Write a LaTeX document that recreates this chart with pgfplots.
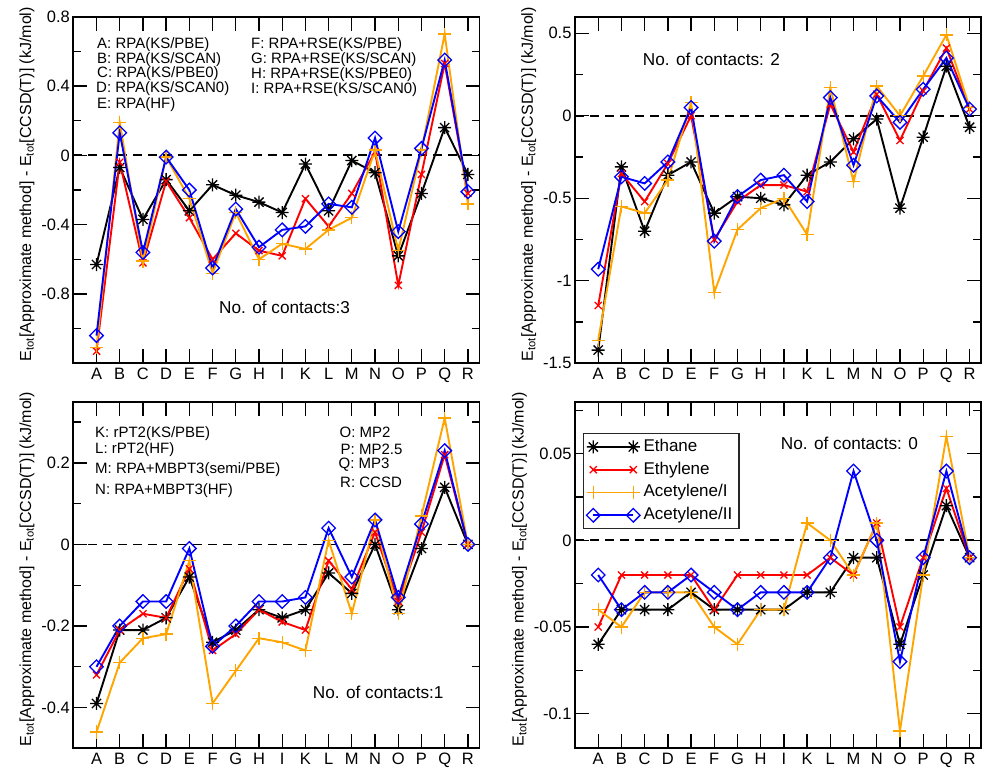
\documentclass[border=0pt]{standalone}
\usepackage{fontspec}
\setmainfont{Liberation Sans}
\usepackage{pgfplots}
\pgfplotsset{compat=1.18}
\definecolor{cOrange}{HTML}{FFA500}
\pgfdeclareplotmark{gstar}{%
 \pgfpathmoveto{\pgfqpoint{-\pgfplotmarksize}{0pt}}\pgfpathlineto{\pgfqpoint{\pgfplotmarksize}{0pt}}%
 \pgfpathmoveto{\pgfqpoint{0pt}{-\pgfplotmarksize}}\pgfpathlineto{\pgfqpoint{0pt}{\pgfplotmarksize}}%
 \pgfpathmoveto{\pgfqpoint{-.7071\pgfplotmarksize}{-.7071\pgfplotmarksize}}\pgfpathlineto{\pgfqpoint{.7071\pgfplotmarksize}{.7071\pgfplotmarksize}}%
 \pgfpathmoveto{\pgfqpoint{-.7071\pgfplotmarksize}{.7071\pgfplotmarksize}}\pgfpathlineto{\pgfqpoint{.7071\pgfplotmarksize}{-.7071\pgfplotmarksize}}%
 \pgfusepathqstroke}
\pgfplotsset{
 panel/.style={
  scale only axis, width=406.2pt, height=346.6pt, anchor=north west,
  xmin=-1, xmax=16.5, xtick={0,...,16},
  xticklabels={A,B,C,D,E,F,G,H,I,K,L,M,N,O,P,Q,R},
  tick align=inside, major tick length=14pt, minor tick length=8pt,
  axis line style={line width=1.7pt},
  major tick style={line width=1.3pt, black},
  minor tick style={line width=1.3pt, black},
  tick label style={font=\fontsize{16.5}{18}\selectfont},
  xticklabel style={yshift=-1pt},
  /pgf/number format/assume math mode=true,
  ylabel={E\textsubscript{tot}[Approximate method] - E\textsubscript{tot}[CCSD(T)] (kJ/mol)},
  ylabel style={font=\fontsize{16}{18}\selectfont, at={(ticklabel cs:0.517)}},
  legend image code/.code={\draw[mark repeat=2,mark phase=1,line width=1.9pt,##1] plot coordinates {(0pt,0pt) (20pt,0pt) (40pt,0pt)};},
 },
 sA/.style={black, line width=1.9pt, mark=gstar, mark size=6.5pt, mark options={line width=1.3pt}},
 sB/.style={red, line width=1.9pt, mark=x, mark size=5pt, mark options={line width=1.3pt}},
 sC/.style={cOrange, line width=1.9pt, mark=+, mark size=6.5pt, mark options={line width=1.3pt}},
 sD/.style={blue, line width=1.9pt, mark=square, mark size=4.8pt, mark options={line width=1.3pt, rotate=45}},
 zline/.style={black, line width=1.8pt, dash pattern=on 9pt off 6pt, forget plot},
}
\newcommand{\ann}[3]{\node[anchor=west, inner sep=0pt, font=\fontsize{15}{17}\selectfont] at (#1pt,-#2pt) {#3};}
\newcommand{\cont}[3]{\node[anchor=west, inner sep=0pt, font=\fontsize{17.2}{19}\selectfont] at (#1pt,-#2pt) {#3};}
\begin{document}
\begin{tikzpicture}
\useasboundingbox (0pt,0pt) rectangle (985pt,-772pt);
% ---------- top left: 3 contacts
\begin{axis}[panel, at={(73.3pt,-16.7pt)}, ymin=-1.2, ymax=0.8,
  ytick={-0.8,-0.4,0,0.4,0.8}, yticklabels={-0.8,-0.4,0,0.4,0.8},
  minor ytick={-1.0,-0.6,-0.2,0.2,0.6}]
\addplot[zline] coordinates {(-1,0) (16.5,0)};
\addplot[sA] coordinates {(0,-0.63)(1,-0.07)(2,-0.37)(3,-0.14)(4,-0.32)(5,-0.17)(6,-0.23)(7,-0.27)(8,-0.33)(9,-0.05)(10,-0.32)(11,-0.03)(12,-0.10)(13,-0.58)(14,-0.22)(15,0.16)(16,-0.11)};
\addplot[sB] coordinates {(0,-1.13)(1,-0.04)(2,-0.62)(3,-0.15)(4,-0.36)(5,-0.60)(6,-0.45)(7,-0.55)(8,-0.58)(9,-0.25)(10,-0.41)(11,-0.22)(12,0.02)(13,-0.75)(14,-0.11)(15,0.53)(16,-0.22)};
\addplot[sC] coordinates {(0,-1.11)(1,0.19)(2,-0.61)(3,-0.01)(4,-0.25)(5,-0.68)(6,-0.33)(7,-0.60)(8,-0.51)(9,-0.54)(10,-0.43)(11,-0.36)(12,0.03)(13,-0.55)(14,0.03)(15,0.70)(16,-0.28)};
\addplot[sD] coordinates {(0,-1.04)(1,0.13)(2,-0.56)(3,-0.01)(4,-0.20)(5,-0.65)(6,-0.31)(7,-0.53)(8,-0.43)(9,-0.41)(10,-0.28)(11,-0.30)(12,0.10)(13,-0.44)(14,0.04)(15,0.55)(16,-0.21)};
\end{axis}
% ---------- top right: 2 contacts
\begin{axis}[panel, at={(575pt,-16.7pt)}, ymin=-1.5, ymax=0.6,
  ytick={-1.5,-1,-0.5,0,0.5}, yticklabels={-1.5,-1,-0.5,0,0.5},
  minor ytick={-1.25,-0.75,-0.25,0.25}]
\addplot[zline] coordinates {(-1,0) (16.5,0)};
\addplot[sA] coordinates {(0,-1.42)(1,-0.31)(2,-0.70)(3,-0.36)(4,-0.28)(5,-0.59)(6,-0.49)(7,-0.50)(8,-0.54)(9,-0.36)(10,-0.28)(11,-0.14)(12,-0.02)(13,-0.56)(14,-0.13)(15,0.30)(16,-0.07)};
\addplot[sB] coordinates {(0,-1.15)(1,-0.35)(2,-0.52)(3,-0.29)(4,0.00)(5,-0.75)(6,-0.52)(7,-0.42)(8,-0.42)(9,-0.46)(10,0.07)(11,-0.22)(12,0.13)(13,-0.15)(14,0.15)(15,0.41)(16,0.04)};
\addplot[sC] coordinates {(0,-1.36)(1,-0.55)(2,-0.59)(3,-0.39)(4,0.08)(5,-1.07)(6,-0.69)(7,-0.56)(8,-0.50)(9,-0.72)(10,0.17)(11,-0.40)(12,0.18)(13,0.00)(14,0.24)(15,0.49)(16,0.05)};
\addplot[sD] coordinates {(0,-0.93)(1,-0.37)(2,-0.41)(3,-0.28)(4,0.05)(5,-0.76)(6,-0.49)(7,-0.39)(8,-0.36)(9,-0.52)(10,0.11)(11,-0.30)(12,0.12)(13,-0.04)(14,0.16)(15,0.35)(16,0.04)};
\end{axis}
% ---------- bottom left: 1 contact
\begin{axis}[panel, at={(73.3pt,-401.7pt)}, ymin=-0.5, ymax=0.35,
  ytick={-0.4,-0.2,0,0.2}, yticklabels={-0.4,-0.2,0,0.2},
  minor ytick={-0.3,-0.1,0.1,0.3}]
\addplot[zline] coordinates {(-1,0) (16.5,0)};
\addplot[sA] coordinates {(0,-0.39)(1,-0.21)(2,-0.21)(3,-0.18)(4,-0.08)(5,-0.24)(6,-0.21)(7,-0.16)(8,-0.18)(9,-0.16)(10,-0.07)(11,-0.12)(12,0.00)(13,-0.16)(14,-0.01)(15,0.14)(16,0.00)};
\addplot[sB] coordinates {(0,-0.32)(1,-0.21)(2,-0.17)(3,-0.18)(4,-0.06)(5,-0.26)(6,-0.22)(7,-0.16)(8,-0.19)(9,-0.21)(10,-0.04)(11,-0.11)(12,0.03)(13,-0.14)(14,0.03)(15,0.22)(16,0.00)};
\addplot[sC] coordinates {(0,-0.46)(1,-0.29)(2,-0.23)(3,-0.22)(4,-0.04)(5,-0.39)(6,-0.31)(7,-0.23)(8,-0.24)(9,-0.26)(10,0.01)(11,-0.17)(12,0.06)(13,-0.17)(14,0.07)(15,0.31)(16,0.00)};
\addplot[sD] coordinates {(0,-0.30)(1,-0.20)(2,-0.14)(3,-0.14)(4,-0.01)(5,-0.25)(6,-0.20)(7,-0.14)(8,-0.14)(9,-0.13)(10,0.04)(11,-0.08)(12,0.06)(13,-0.13)(14,0.05)(15,0.23)(16,0.00)};
\end{axis}
% ---------- bottom right: 0 contacts
\begin{axis}[panel, at={(575pt,-401.7pt)}, ymin=-0.12, ymax=0.08,
  ytick={-0.1,-0.05,0,0.05}, yticklabels={-0.1,-0.05,0,0.05},
  minor ytick={-0.075,-0.025,0.025,0.075},
  legend style={at={(0.019,0.9106)}, anchor=north west, draw=black!85, line width=1.6pt,
    font=\fontsize{17}{20}\selectfont, cells={anchor=west},
    nodes={text height=12.5pt, text depth=3.5pt, inner sep=3.4pt}}]
\addplot[zline] coordinates {(-1,0) (16.5,0)};
\addplot[sA] coordinates {(0,-0.06)(1,-0.04)(2,-0.04)(3,-0.04)(4,-0.03)(5,-0.04)(6,-0.04)(7,-0.04)(8,-0.04)(9,-0.03)(10,-0.03)(11,-0.01)(12,-0.01)(13,-0.06)(14,-0.02)(15,0.02)(16,-0.01)};
\addlegendentry{Ethane}
\addplot[sB] coordinates {(0,-0.05)(1,-0.02)(2,-0.02)(3,-0.02)(4,-0.02)(5,-0.04)(6,-0.02)(7,-0.02)(8,-0.02)(9,-0.02)(10,-0.01)(11,-0.02)(12,0.01)(13,-0.05)(14,-0.01)(15,0.03)(16,-0.01)};
\addlegendentry{Ethylene}
\addplot[sC] coordinates {(0,-0.04)(1,-0.05)(2,-0.03)(3,-0.03)(4,-0.03)(5,-0.05)(6,-0.06)(7,-0.04)(8,-0.04)(9,0.01)(10,0.00)(11,-0.02)(12,0.01)(13,-0.11)(14,-0.02)(15,0.06)(16,-0.01)};
\addlegendentry{Acetylene/I}
\addplot[sD] coordinates {(0,-0.02)(1,-0.04)(2,-0.03)(3,-0.03)(4,-0.02)(5,-0.03)(6,-0.04)(7,-0.03)(8,-0.03)(9,-0.03)(10,-0.01)(11,0.04)(12,0.00)(13,-0.07)(14,-0.01)(15,0.04)(16,-0.01)};
\addlegendentry{Acetylene/II}
\end{axis}
% ---------- annotations
\ann{97}{44.3}{A: RPA(KS/PBE)}
\ann{97}{59.3}{B: RPA(KS/SCAN)}
\ann{97}{74}{C: RPA(KS/PBE0)}
\ann{96}{89}{D: RPA(KS/SCAN0)}
\ann{97}{104.3}{E: RPA(HF)}
\ann{251}{44.3}{F: RPA+RSE(KS/PBE)}
\ann{251}{60}{G: RPA+RSE(KS/SCAN)}
\ann{251}{75}{H: RPA+RSE(KS/PBE0)}
\ann{251}{90}{I: RPA+RSE(KS/SCAN0)}
\cont{219}{307.7}{No. of contacts:3}
\cont{642.7}{59.3}{No. of contacts: 2}
\ann{95}{433.3}{K: rPT2(KS/PBE)}
\ann{95}{450}{L: rPT2(HF)}
\ann{95}{470}{M: RPA+MBPT3(semi/PBE)}
\ann{95}{490.5}{N: RPA+MBPT3(HF)}
\ann{339.5}{432.7}{O: MP2}
\ann{340.5}{449.3}{P: MP2.5}
\ann{338.5}{465}{Q: MP3}
\ann{340}{482.7}{R: CCSD}
\cont{312.7}{692.3}{No. of contacts:1}
\cont{780.7}{443.3}{No. of contacts: 0}
\end{tikzpicture}
\end{document}
